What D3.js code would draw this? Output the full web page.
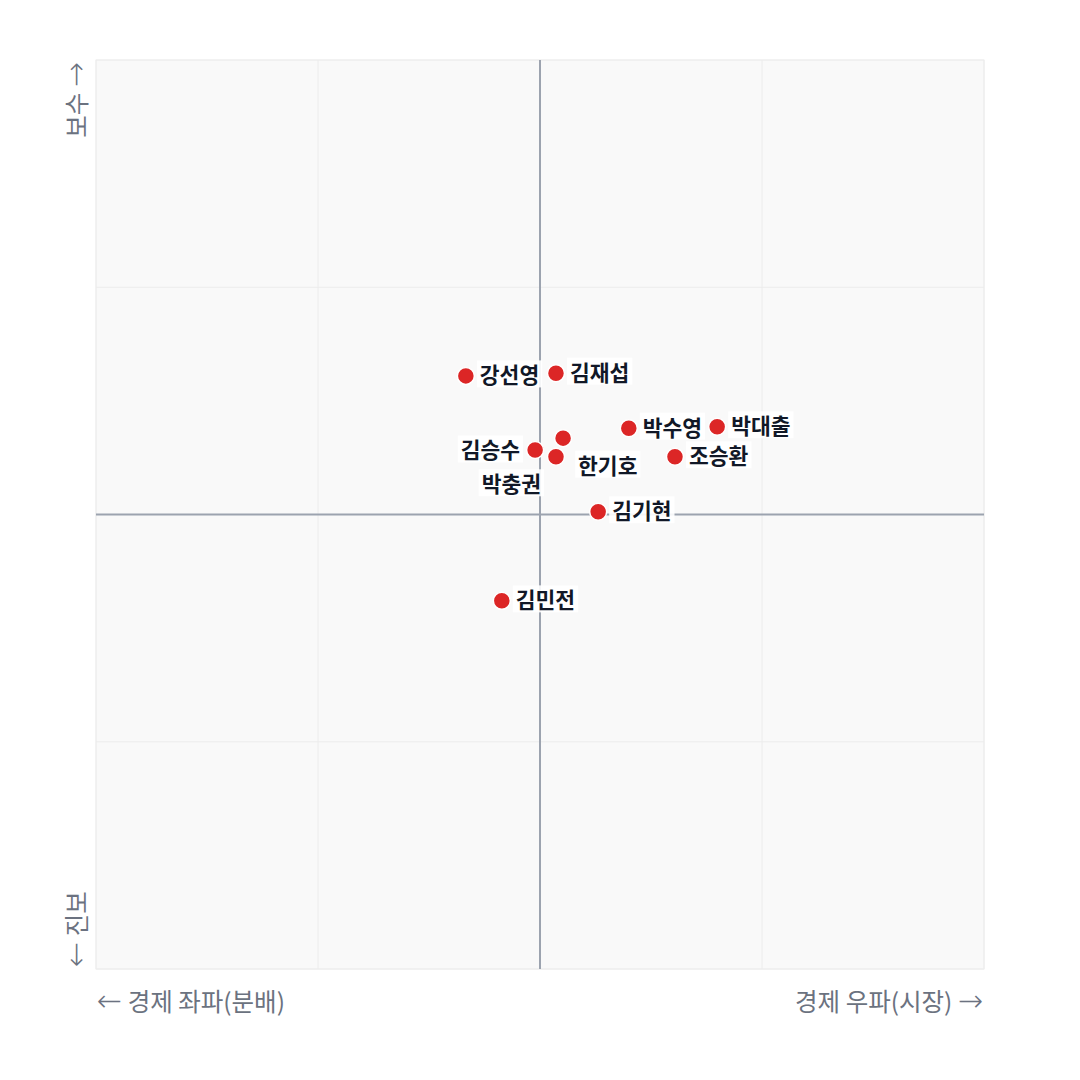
<!DOCTYPE html>
<html>
<head>
<meta charset="utf-8">
<script src="https://cdn.jsdelivr.net/npm/d3@7"></script>
<style>
  body { margin: 0; background: #fff; }
  svg text { font-family: "Noto Sans CJK KR", "Noto Sans", sans-serif; }
  .arrow { font-family: "DejaVu Sans", sans-serif; font-weight: 200; }
</style>
</head>
<body>
<svg id="chart"></svg>
<script>
var width = 1080;
var height = 1080;
var margin = { top: 60, right: 96, bottom: 111, left: 96 };

// politicians: economic (left -1 .. right 1), social (progressive -1 .. conservative 1)
var names = ["강선영", "김재섭", "박수영", "박대출", "김승수", "한기호", "박충권", "조승환", "김기현", "김민전"];
var econ  = [-0.167, 0.036, 0.200, 0.399, -0.011, 0.052, 0.036, 0.304, 0.131, -0.086];
var soc   = [0.305, 0.311, 0.190, 0.193, 0.142, 0.168, 0.127, 0.127, 0.006, -0.190];
var gridTicks = [-1, -0.5, 0, 0.5, 1];

// label placement offsets (px) relative to the dot
var labelPos = {
  "김승수": { dx: -15, dy: 1, anchor: "end" },
  "한기호": { dx: 15, dy: 28, anchor: "start" },
  "박충권": { dx: -15, dy: 28, anchor: "end" }
};

var svg = d3.select("#chart")
  .attr("width", width)
  .attr("height", height);

var x = d3.scaleLinear()
  .domain([-1, 1])
  .range([margin.left, width - margin.right]);
var y = d3.scaleLinear()
  .domain([-1, 1])
  .range([height - margin.bottom, margin.top]);

svg.append("rect")
  .attr("x", x(-1))
  .attr("y", y(1))
  .attr("width", x(1) - x(-1))
  .attr("height", y(-1) - y(1))
  .attr("fill", "#f9f9f9")
  .attr("stroke", "#efefef");

svg.append("g")
  .selectAll("line")
  .data(gridTicks)
  .enter()
    .append("line")
      .attr("x1", function(d) { return x(d); })
      .attr("x2", function(d) { return x(d); })
      .attr("y1", y(1))
      .attr("y2", y(-1))
      .attr("stroke", "#ececec")
      .attr("stroke-width", 1);

svg.append("g")
  .selectAll("line")
  .data(gridTicks)
  .enter()
    .append("line")
      .attr("y1", function(d) { return y(d); })
      .attr("y2", function(d) { return y(d); })
      .attr("x1", x(-1))
      .attr("x2", x(1))
      .attr("stroke", "#ececec")
      .attr("stroke-width", 1);

// center axes
svg.append("line")
  .attr("x1", x(0)).attr("x2", x(0))
  .attr("y1", y(1)).attr("y2", y(-1))
  .attr("stroke", "#9ca3af")
  .attr("stroke-width", 2);
svg.append("line")
  .attr("x1", x(-1)).attr("x2", x(1))
  .attr("y1", y(0)).attr("y2", y(0))
  .attr("stroke", "#9ca3af")
  .attr("stroke-width", 2);

// axis labels (arrow glyph in a tspan so it keeps its own shape)
function axisLabel(sel, parts) {
  parts.forEach(function(p) {
    sel.append("tspan")
      .attr("class", p.arrow ? "arrow" : null)
      .style("font-size", p.arrow ? "30px" : null)
      .text(p.t);
  });
  return sel;
}

var leftLab = svg.append("text")
  .attr("x", x(-1) + 1)
  .attr("y", 1011)
  .attr("fill", "#6b7280")
  .style("font-size", "24.5px");
axisLabel(leftLab, [{ t: "←", arrow: true }, { t: " 경제 좌파(분배)" }]);

var rightLab = svg.append("text")
  .attr("x", x(1) - 1)
  .attr("y", 1011)
  .attr("fill", "#6b7280")
  .style("text-anchor", "end")
  .style("font-size", "24.5px");
axisLabel(rightLab, [{ t: "경제 우파(시장) " }, { t: "→", arrow: true }]);

var topLab = svg.append("text")
  .attr("transform", "translate(86," + (y(1) + 2) + ") rotate(-90)")
  .attr("fill", "#6b7280")
  .style("text-anchor", "end")
  .style("font-size", "24.5px");
axisLabel(topLab, [{ t: "보수 " }, { t: "→", arrow: true }]);

var botLab = svg.append("text")
  .attr("transform", "translate(86," + (y(-1) - 2) + ") rotate(-90)")
  .attr("fill", "#6b7280")
  .style("text-anchor", "start")
  .style("font-size", "24.5px");
axisLabel(botLab, [{ t: "←", arrow: true }, { t: " 진보" }]);

var data = names.map(function(n, i) {
  return { name: n, econ: econ[i], soc: soc[i] };
});

svg.append("g")
  .selectAll("circle")
  .data(data)
  .enter()
    .append("circle")
      .attr("cx", function(d) { return x(d.econ); })
      .attr("cy", function(d) { return y(d.soc); })
      .attr("r", 8.5)
      .attr("fill", "#dc2626")
      .attr("stroke", "#fff")
      .attr("stroke-width", 1.5);

var labels = svg.append("g")
  .selectAll("g")
  .data(data)
  .enter()
    .append("g");

labels.append("text")
  .attr("x", function(d) {
    var p = labelPos[d.name] || { dx: 14 };
    return x(d.econ) + p.dx;
  })
  .attr("y", function(d) {
    var p = labelPos[d.name] || { dy: 0 };
    return y(d.soc) + (p.dy || 0);
  })
  .attr("dy", "0.35em")
  .style("text-anchor", function(d) {
    var p = labelPos[d.name];
    return p ? p.anchor : "start";
  })
  .style("font-size", "21.5px")
  .style("font-weight", "700")
  .attr("fill", "#111827")
  .text(function(d) { return d.name; });

labels.each(function() {
  var g = d3.select(this);
  var bb = g.select("text").node().getBBox();
  g.insert("rect", "text")
    .attr("x", bb.x - 3)
    .attr("y", bb.y + 2)
    .attr("width", bb.width + 6)
    .attr("height", bb.height - 4)
    .attr("fill", "#fff")
    .attr("fill-opacity", 0.9);
});
</script>
</body>
</html>
